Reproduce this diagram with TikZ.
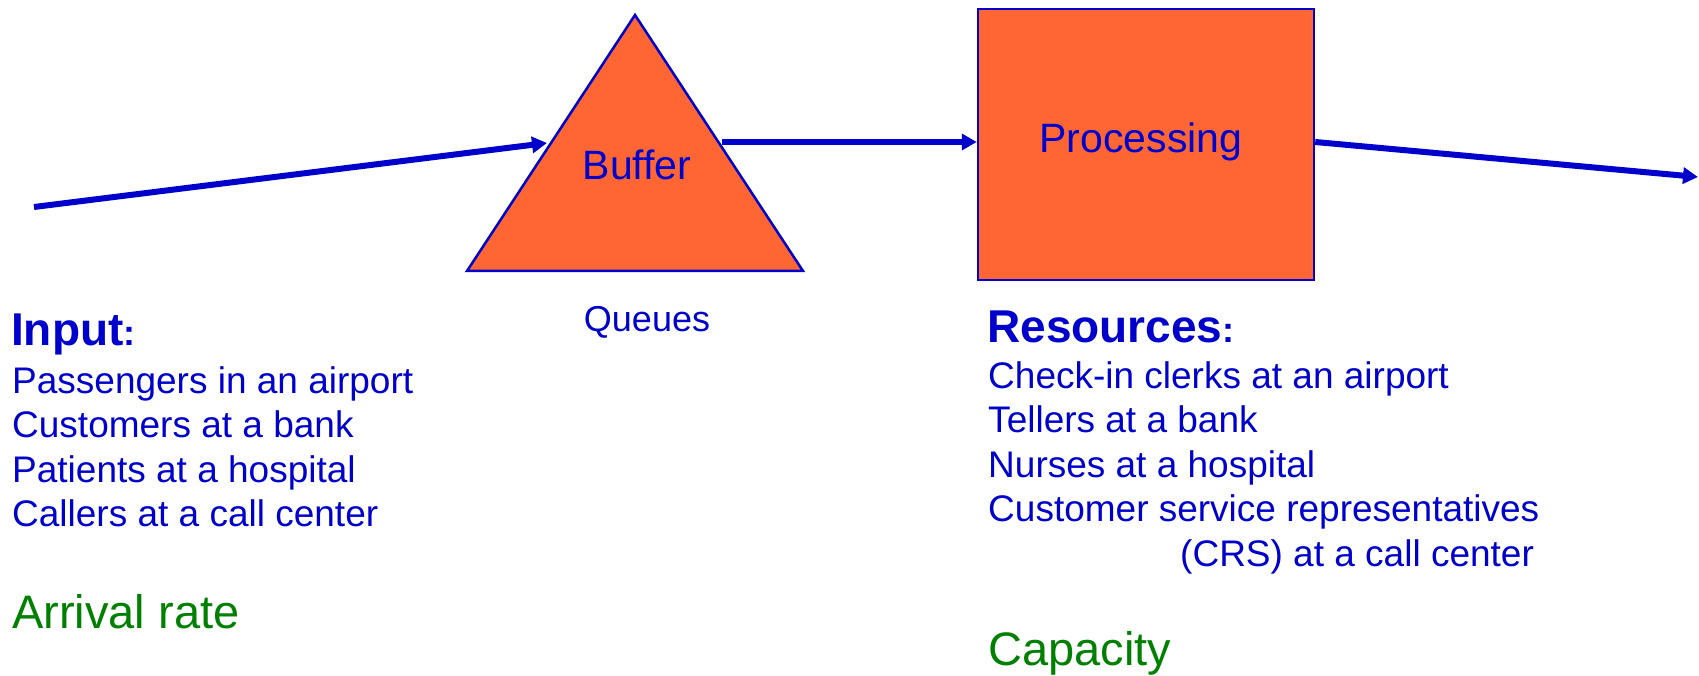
\documentclass[tikz,border=0pt]{standalone}
\usepackage{fontspec}
\setmainfont{Liberation Sans}
\usetikzlibrary{arrows.meta}
\definecolor{fillor}{HTML}{FF6633}
\definecolor{myblue}{HTML}{0000CC}
\definecolor{mygreen}{HTML}{008000}
\tikzset{
  flow/.style={myblue, line width=6pt, -{Triangle[length=15pt,width=16pt]}},
  shapebox/.style={draw=myblue, fill=fillor, line width=2.5pt},
  txt/.style={inner sep=0pt, anchor=base west, text=myblue, font=\fontsize{37}{44}\selectfont},
  head/.style={inner sep=0pt, anchor=base west, text=myblue, font=\fontsize{46}{55}\selectfont\bfseries},
  grn/.style={inner sep=0pt, anchor=base west, text=mygreen, font=\fontsize{47}{56}\selectfont},
}
\begin{document}
\begin{tikzpicture}[x=1pt,y=-1pt]
\useasboundingbox (0,0) rectangle (1699,676);
% buffer triangle
\coordinate (apex) at (635,15);
\coordinate (bl) at (467,271);
\coordinate (br) at (803,271);
\filldraw[shapebox, line join=miter] (apex) -- (bl) -- (br) -- cycle;
\node[text=myblue, font=\fontsize{41}{49}\selectfont, inner sep=0pt] (buf) at (637,165) {Buffer};
\coordinate (bufin) at (547,143);
\coordinate (bufout) at (722,142);
% processing box
\node[shapebox, minimum width=336pt, minimum height=271pt, inner sep=0pt] (proc) at (1146,144.5) {};
\node[text=myblue, font=\fontsize{41}{49}\selectfont, inner sep=0pt] (proctxt) at (1141,142) {Processing};
% connectors
\coordinate (start) at (34,207);
\coordinate (endpt) at (1698,177);
\draw[flow] (start) -- (bufin);
\draw[flow] (bufout) -- (proc.west |- bufout);
\draw[flow] (proc.east |- bufout) -- (endpt);
% labels
\node[text=myblue, font=\fontsize{36}{42}\selectfont, inner sep=0pt] (queues) at (647,322) {Queues};
\node[head] (input) at (11,345) {Input\fontsize{36}{40}\selectfont:};
\node[txt] (l1) at (12,393) {Passengers in an airport};
\node[txt] (l2) at (12,437) {Customers at a bank};
\node[txt] (l3) at (12,482) {Patients at a hospital};
\node[txt] (l4) at (12,526) {Callers at a call center};
\node[grn] (arr) at (12,628) {Arrival rate};
\node[head] (res) at (987,342) {Resources\fontsize{36}{40}\selectfont:};
\node[txt] (r1) at (988,388) {Check-in clerks at an airport};
\node[txt] (r2) at (988,432) {Tellers at a bank};
\node[txt] (r3) at (988,477) {Nurses at a hospital};
\node[txt] (r4) at (988,521) {Customer service representatives};
\node[txt] (r5) at (1180,566) {(CRS) at a call center};
\node[grn] (cap) at (988,665) {Capacity};
\end{tikzpicture}
\end{document}
